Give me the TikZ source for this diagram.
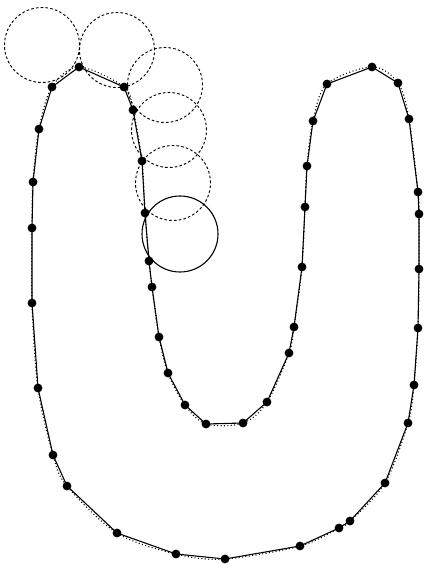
\documentclass[tikz,border=0pt]{standalone}
\begin{document}
\begin{tikzpicture}[x=1pt,y=-1pt,
  dot/.style={circle,fill=black,inner sep=0pt,minimum size=8.8pt},
  edge/.style={line width=1.1pt},
  guide/.style={line width=1.1pt,dash pattern=on 1pt off 2.4pt},
  probe/.style={circle,draw,inner sep=0pt,minimum size=75pt,line width=0.95pt,dash pattern=on 2.6pt off 2.2pt},
  probesolid/.style={circle,draw,inner sep=0pt,minimum size=76pt,line width=1.1pt}]
\useasboundingbox (0,0) rectangle (425,569);
\foreach \i/\x/\y in {1/79/67,2/52/87,3/39/129,4/33/182,5/32/228,6/32/303,7/38/388,8/53/455,9/67/486,10/117/533,11/176/554,12/225/559,13/300/546,14/339/528,15/350/521,16/385/483,17/408/423,18/414/385,19/418/328,20/419/269,21/419/214,22/418/192,23/409/119,24/398/83,25/372/67,26/327/84,27/313/121,28/307/166,29/305/207,30/302/267,31/294/327,32/289/353,33/267/402,34/243/423,35/206/424,36/185/405,37/168/373,38/159/337,39/152/287,40/149/261,41/145/213,42/142/161,43/133/110,44/124/87}
  \coordinate (p\i) at (\x,\y);
% probe circles
\node[probe] (c1) at (42,45) {};
\node[probe] (c2) at (117,50) {};
\node[probe] (c3) at (165,85) {};
\node[probe] (c4) at (169,130) {};
\node[probe] (c5) at (173,183) {};
\node[probesolid] (c6) at (180,234) {};
% smooth dotted guide curve
\draw[guide] plot[smooth cycle,tension=0.55] coordinates {(p1) (p2) (p3) (p4) (p5) (p6) (p7) (p8) (p9) (p10) (p11) (p12) (p13) (p14) (p15) (p16) (p17) (p18) (p19) (p20) (p21) (p22) (p23) (p24) (p25) (p26) (p27) (p28) (p29) (p30) (p31) (p32) (p33) (p34) (p35) (p36) (p37) (p38) (p39) (p40) (p41) (p42) (p43) (p44)};
% polygon
\draw[edge] (p1) \foreach \i in {2,...,44} { -- (p\i) } -- cycle;
% dots
\foreach \i in {1,...,44} \node[dot] (d\i) at (p\i) {};
\end{tikzpicture}
\end{document}
